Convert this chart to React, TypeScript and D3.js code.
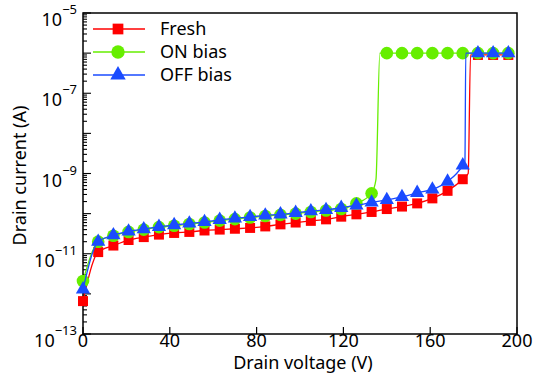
import * as d3 from 'd3';
import React, { useEffect, useRef } from 'react';

// Drain current vs drain voltage (log scale)

const voltage = [0, 7, 14, 21, 28, 35, 42, 49, 56, 63, 70, 77, 84, 91, 98, 105, 112, 119, 126, 133, 140, 147, 154, 161, 168, 175, 182, 189, 196];

const freshCurrent = [6.6e-13, 1.1e-11, 1.6e-11, 2.2e-11, 2.6e-11, 3.0e-11, 3.3e-11, 3.5e-11, 3.8e-11, 4.0e-11, 4.2e-11, 4.4e-11, 4.8e-11, 5.4e-11, 6.0e-11, 6.6e-11, 7.2e-11, 8.4e-11, 9.6e-11, 1.1e-10, 1.3e-10, 1.5e-10, 1.8e-10, 2.4e-10, 3.7e-10, 7.2e-10, 9e-7, 9e-7, 9e-7];

const onCurrent = [2.1e-12, 2.0e-11, 2.8e-11, 3.5e-11, 4.0e-11, 4.6e-11, 5.0e-11, 5.5e-11, 6.0e-11, 6.7e-11, 7.3e-11, 8.0e-11, 8.7e-11, 9.3e-11, 1.0e-10, 1.1e-10, 1.2e-10, 1.3e-10, 1.8e-10, 3.2e-10, 1e-6, 1e-6, 1e-6, 1e-6, 1e-6, 1e-6, 1e-6, 1e-6, 1e-6];

const offCurrent = [1.3e-12, 2.0e-11, 2.9e-11, 3.6e-11, 4.1e-11, 4.7e-11, 5.2e-11, 5.7e-11, 6.2e-11, 7.0e-11, 7.6e-11, 8.3e-11, 9.0e-11, 9.6e-11, 1.05e-10, 1.15e-10, 1.24e-10, 1.4e-10, 1.6e-10, 1.9e-10, 2.2e-10, 2.6e-10, 3.3e-10, 4.0e-10, 6.3e-10, 1.6e-9, 1e-6, 1e-6, 1e-6];

// points on the steep breakdown edge (line only, no marker)
const freshJumpV = [177.5, 178.6];
const freshJumpI = [1.0e-9, 9e-7];
const onJumpV = [135, 136.8];
const onJumpI = [7e-10, 1e-6];
const offJumpV = [176, 176.4];
const offJumpI = [2e-9, 1e-6];

const xTicks = [0, 40, 80, 120, 160, 200];
const yLabelExp = [-13, -11, -9, -7, -5];

const seriesNames = ['Fresh', 'ON bias', 'OFF bias'];

export default () => {
    const ref = useRef<any>();

    useEffect(() => {
        const svg = d3.select<any, any>(ref.current);
        svg.selectAll('*').remove();

        const font = '"Noto Sans", sans-serif';
        const left = 83, right = 517, top = 13, bottom = 334;

        const xScale = d3.scaleLinear().domain([0, 200]).range([left, right]);
        const yScale = d3.scaleLog().domain([1e-13, 1e-5]).range([bottom, top]);

        const series = [
            { v: voltage, i: freshCurrent, jv: freshJumpV, ji: freshJumpI, color: '#ff0000', symbol: d3.symbolSquare, size: 100 },
            { v: voltage, i: onCurrent, jv: onJumpV, ji: onJumpI, color: '#66ee00', symbol: d3.symbolCircle, size: 125 },
            { v: voltage, i: offCurrent, jv: offJumpV, ji: offJumpI, color: '#1a4bff', symbol: d3.symbolTriangle, size: 88 },
        ];

        // frame
        svg.append('rect')
            .attr('x', left).attr('y', top)
            .attr('width', right - left).attr('height', bottom - top)
            .attr('fill', 'none').attr('stroke', '#000').attr('stroke-width', 1.5);

        // x ticks
        const xg = svg.append('g');
        xTicks.forEach((t) => {
            xg.append('line')
                .attr('x1', xScale(t)).attr('x2', xScale(t))
                .attr('y1', bottom).attr('y2', bottom - 7)
                .attr('stroke', '#000').attr('stroke-width', 1.2);
            xg.append('text')
                .attr('x', xScale(t)).attr('y', 347)
                .attr('text-anchor', 'middle')
                .style('font-family', font).style('font-size', '18px')
                .text(t);
        });

        // y ticks (log, with minor)
        const yg = svg.append('g');
        yScale.ticks().forEach((t) => {
            const e = Math.log10(t);
            const major = Math.abs(e - Math.round(e)) < 1e-6;
            yg.append('line')
                .attr('x1', left).attr('x2', left + (major ? 8 : 4))
                .attr('y1', yScale(t)).attr('y2', yScale(t))
                .attr('stroke', '#000').attr('stroke-width', 1.1);
        });
        yLabelExp.forEach((e) => {
            const y = yScale(Math.pow(10, e));
            const txt = yg.append('text')
                .attr('x', 77).attr('y', y + 13)
                .attr('text-anchor', 'end')
                .style('font-family', font).style('font-size', '18px');
            txt.append('tspan').text('10');
            txt.append('tspan').attr('dy', -12).style('font-size', '13px').text('\u2212' + Math.abs(e));
        });

        // axis titles
        svg.append('text')
            .attr('x', (left + right) / 2 + 3).attr('y', 369)
            .attr('text-anchor', 'middle')
            .style('font-family', font).style('font-size', '18px')
            .text('Drain voltage (V)');
        svg.append('text')
            .attr('transform', `translate(26, ${(top + bottom) / 2 + 2}) rotate(-90)`)
            .attr('text-anchor', 'middle')
            .style('font-family', font).style('font-size', '18px')
            .text('Drain current (A)');

        // data
        const line = d3.line<any>()
            .x((d) => xScale(d[0]))
            .y((d) => yScale(d[1]))
            .curve(d3.curveMonotoneX);

        const dataArea = svg.append('g');
        series.forEach((s) => {
            const pts: any[] = s.v.map((v, k) => [v, s.i[k]]);
            s.jv.forEach((v, k) => pts.push([v, s.ji[k]]));
            pts.sort((a, b) => a[0] - b[0]);
            dataArea.append('path')
                .datum(pts)
                .attr('d', line)
                .attr('fill', 'none')
                .attr('stroke', s.color)
                .attr('stroke-width', 1.3);
            const sym = d3.symbol().type(s.symbol).size(s.size);
            dataArea.append('g').selectAll('path')
                .data(s.v.map((v, k) => [v, s.i[k]]))
                .join('path')
                .attr('transform', (d: any) => `translate(${xScale(d[0])}, ${yScale(d[1])})`)
                .attr('d', sym as any)
                .attr('fill', s.color);
        });

        // legend
        const lg = svg.append('g');
        series.forEach((s, k) => {
            const y = 29 + k * 23;
            lg.append('line')
                .attr('x1', 93).attr('x2', 145)
                .attr('y1', y).attr('y2', y)
                .attr('stroke', s.color).attr('stroke-width', 1.3);
            lg.append('path')
                .attr('transform', `translate(118, ${y})`)
                .attr('d', d3.symbol().type(s.symbol).size(s.size + 15)() as any)
                .attr('fill', s.color);
            lg.append('text')
                .attr('x', 160).attr('y', y + 6)
                .style('font-family', font).style('font-size', '18px')
                .text(seriesNames[k]);
        });
    });

    return (
        <svg ref={ref} width={534} height={387}
            style={{ position: 'absolute', left: 0, top: 0, background: '#fff' }} />
    );
};
